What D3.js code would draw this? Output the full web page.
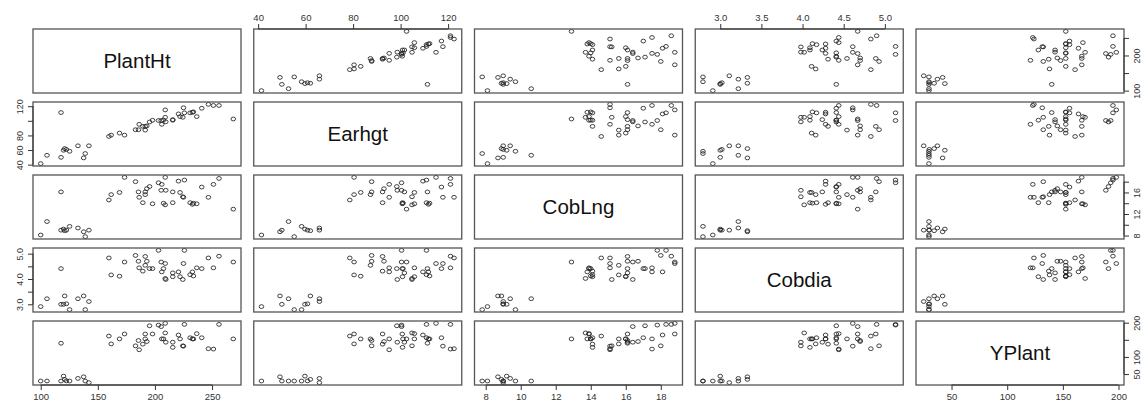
<!DOCTYPE html>
<html>
<head>
<meta charset="utf-8">
<script src="https://cdn.jsdelivr.net/npm/d3@7"></script>
<style>
  body { margin: 0; background: #fff; }
  svg { display: block; font-family: "Liberation Sans", Arial, sans-serif; }
</style>
</head>
<body>
<svg id="chart" width="1148" height="403"></svg>
<script>
// variables of the scatterplot matrix
var varNames = ["PlantHt", "Earhgt", "CobLng", "Cobdia", "YPlant"];

var plantHt = [100, 105.5, 117.8, 117.8, 120, 121, 122.5, 125.3, 132.6, 137.6, 139, 142.2,
  159.7, 161.7, 169, 173.4, 183, 185.6, 186.2, 189.4, 191.5, 191.5, 192.9, 195.3, 197.9, 203.1,
  205.5, 206, 207.5, 209, 209, 209.5, 215.6, 215.6, 220.6, 222, 224.4, 225, 225.8, 230.8,
  232.8, 233.7, 236.6, 241, 246.8, 251.2, 256.1, 268.6];
var earhgt = [41.4, 52.8, 111.3, 50, 59.7, 62, 60.8, 58.3, 65.8, 49.2, 55.2, 65.8,
  78.6, 80.4, 83.2, 80.4, 87.8, 87.8, 95.2, 92.4, 92.4, 87.3, 93, 98.4, 100.7, 100.4,
  100.4, 95.2, 101, 114.9, 104.8, 98.6, 101.6, 100.8, 109.4, 105.8, 104.8, 117.8, 110.9, 110.9,
  111.7, 112.2, 105.8, 117.2, 122.5, 121, 121, 102.5];
var cobLng = [8.1, 10.6, 16.1, 9.0, 9.2, 8.9, 9.0, 9.7, 9.4, 8.7, 7.8, 9.0,
  14.6, 15.6, 16.0, 18.8, 18.0, 16.1, 15.1, 14.1, 16.1, 15.6, 16.7, 17.1, 13.9, 17.8,
  16.4, 17.5, 14.0, 18.8, 13.7, 16.4, 16.1, 14.1, 18.1, 16.0, 15.2, 15.1, 18.3, 14.1,
  13.8, 14.0, 13.9, 17.0, 15.1, 17.5, 18.6, 12.9];
var cobdia = [2.91, 3.22, 4.41, 3.0, 3.0, 3.33, 3.02, 2.79, 3.22, 3.33, 2.79, 3.11,
  4.83, 4.16, 4.11, 4.67, 4.93, 4.70, 4.44, 4.31, 4.89, 4.54, 4.70, 4.41, 4.41, 5.13,
  4.67, 4.28, 4.41, 4.61, 4.02, 3.98, 4.24, 4.09, 4.28, 4.09, 3.98, 4.61, 5.13, 4.17,
  4.28, 4.12, 4.44, 4.41, 4.83, 4.44, 4.90, 4.67];
var yPlant = [29.7, 29.7, 140, 29.7, 44, 34.4, 30, 29.7, 37.3, 42, 29.7, 25,
  161, 138, 152.6, 167, 132.4, 148, 120.9, 137.3, 167, 152.6, 145, 191, 167, 193,
  188.6, 152.6, 152.6, 198, 170, 143, 143, 128, 164, 152.6, 132.4, 131.5, 195, 156,
  152.6, 152.6, 168, 156, 124, 123, 195, 152.6];

var columns = [plantHt, earhgt, cobLng, cobdia, yPlant];

// tick values and which ones carry a label (R drops overlapping ones)
var ticks = [[100, 150, 200, 250], [40, 60, 80, 100, 120], [8, 10, 12, 14, 16, 18],
  [3.0, 3.5, 4.0, 4.5, 5.0], [50, 100, 150, 200]];
var sideLabels = [[100, 200], [40, 60, 80, 120], [8, 12, 16], [3.0, 4.0, 5.0], [50, 100, 200]];

var svg = d3.select("#chart");
var n = varNames.length;
var mLeft = 33, mTop = 29, pw = 208, ph = 64, stepX = 220.75, stepY = 73;

function fmt(i) { return i == 3 ? d3.format(".1f") : d3.format("d"); }

function xScale(i, col) {
  var e = d3.extent(columns[i]), pad = (e[1] - e[0]) * 0.04;
  return d3.scaleLinear().domain([e[0] - pad, e[1] + pad]).range([mLeft + col * stepX, mLeft + col * stepX + pw]);
}
function yScale(i, row) {
  var e = d3.extent(columns[i]), pad = (e[1] - e[0]) * 0.04;
  return d3.scaleLinear().domain([e[0] - pad, e[1] + pad]).range([mTop + row * stepY + ph, mTop + row * stepY]);
}

for (var r = 0; r < n; r++) {
  for (var c = 0; c < n; c++) {
    var x0 = mLeft + c * stepX, y0 = mTop + r * stepY;
    var g = svg.append("g");
    if (r == c) {
      g.append("text")
        .attr("x", x0 + pw / 2).attr("y", y0 + ph / 2 + 7)
        .attr("text-anchor", "middle")
        .attr("font-size", 20.5)
        .attr("fill", "#111")
        .text(varNames[r]);
    } else {
      var xs = xScale(c, c), ys = yScale(r, r);
      var pts = columns[c].map(function(v, k) { return [v, columns[r][k]]; });
      g.selectAll("ellipse").data(pts).enter().append("ellipse")
        .attr("cx", function(d) { return xs(d[0]); })
        .attr("cy", function(d) { return ys(d[1]); })
        .attr("rx", 2.3).attr("ry", 1.9)
        .attr("fill", "none")
        .attr("stroke", "#222")
        .attr("stroke-width", 0.85);
    }
    g.append("rect")
      .attr("x", x0).attr("y", y0).attr("width", pw).attr("height", ph)
      .attr("fill", "none").attr("stroke", "#555").attr("stroke-width", 1.3);
  }
}

function drawAxis(i, side) {
  var t = ticks[i], g, sc, ax;
  if (side == "top" || side == "bottom") {
    sc = xScale(i, i);
    var yy = side == "top" ? mTop : mTop + (n - 1) * stepY + ph;
    ax = (side == "top" ? d3.axisTop(sc) : d3.axisBottom(sc)).tickValues(t).tickSize(5).tickPadding(3).tickFormat(fmt(i));
    g = svg.append("g").attr("transform", "translate(0," + yy + ")").call(ax);
    g.select(".domain").remove();
    g.append("line").attr("x1", sc(t[0])).attr("x2", sc(t[t.length - 1])).attr("stroke", "#333");
    g.selectAll(".tick text").attr("font-size", 9.5).attr("fill", "#333");
  } else {
    sc = yScale(i, i);
    var xx = side == "left" ? mLeft : mLeft + (n - 1) * stepX + pw;
    ax = (side == "left" ? d3.axisLeft(sc) : d3.axisRight(sc)).tickValues(t).tickSize(5).tickFormat(fmt(i));
    g = svg.append("g").attr("transform", "translate(" + xx + ",0)").call(ax);
    g.select(".domain").remove();
    g.append("line").attr("y1", sc(t[0])).attr("y2", sc(t[t.length - 1])).attr("stroke", "#333");
    var off = side == "left" ? -13 : 13;
    g.selectAll(".tick text")
      .attr("x", null).attr("dy", null)
      .attr("text-anchor", "middle")
      .attr("transform", "translate(" + off + ",0) rotate(-90) translate(0,3)")
      .attr("font-size", 9).attr("fill", "#333")
      .text(function(d) { return sideLabels[i].indexOf(d) >= 0 ? fmt(i)(d) : ""; });
  }
  g.selectAll(".tick line").attr("stroke", "#333");
}

drawAxis(0, "bottom"); drawAxis(2, "bottom"); drawAxis(4, "bottom");
drawAxis(1, "top"); drawAxis(3, "top");
drawAxis(1, "left"); drawAxis(3, "left");
drawAxis(0, "right"); drawAxis(2, "right"); drawAxis(4, "right");
</script>
</body>
</html>
